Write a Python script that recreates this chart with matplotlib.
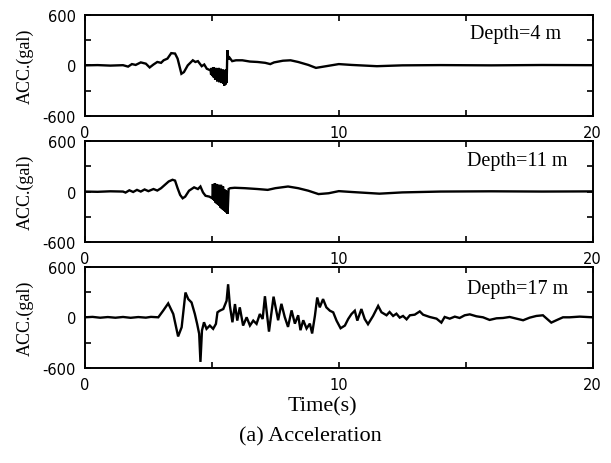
import matplotlib
matplotlib.use("Agg")
import matplotlib.pyplot as plt
from matplotlib.ticker import MultipleLocator

plt.rcParams["axes.unicode_minus"] = False

# ---- acceleration records (time in s, acceleration in gal) ----
t_4m = [0.0, 0.5, 1.0, 1.5, 1.7, 1.85, 2.0, 2.2, 2.4, 2.55,
        2.7, 2.85, 3.0, 3.1, 3.25, 3.4, 3.55, 3.65, 3.8, 3.9,
        4.05, 4.25, 4.35, 4.45, 4.6, 4.7, 4.8,
        4.95, 4.97, 4.99, 5.01, 5.03, 5.05, 5.07, 5.09, 5.11, 5.13,
        5.15, 5.17, 5.19, 5.21, 5.23, 5.25, 5.27, 5.29, 5.31, 5.33,
        5.35, 5.37, 5.39, 5.41, 5.43, 5.45, 5.47, 5.49, 5.51, 5.53,
        5.55, 5.57, 5.59,
        5.61, 5.65, 5.70, 5.8, 5.95, 6.2, 6.5, 6.8, 7.1, 7.3, 7.45,
        7.8, 8.1, 8.4, 8.8, 9.1, 9.5, 10.0, 10.5, 11.5, 12.5,
        14.0, 16.0, 18.0, 20.0]
a_4m = [0, 3, -3, 2, -15, 15, 5, 35, 20, -25,
        10, 40, 30, 60, 80, 145, 140, 80, -100, -80,
        0, 60, 40, 50, -10, 10, -40,
        -60, -110, -30, -120, -40, -140, -20, -150, -50, -170,
        -30, -160, -40, -190, -50, -180, -30, -200, -60, -190,
        -40, -210, -70, -200, -50, -220, -60, -240, -80, -230,
        -50, -210, -100,
        180, 70, 90, 50, 60, 60, 45, 40, 30, 15, 35,
        55, 60, 40, 5, -30, -10, 15, 5, -10, 0,
        3, 0, 4, 2]

t_11m = [0.0, 0.5, 1.0, 1.5, 1.6, 1.75, 1.9, 2.05, 2.2, 2.35,
         2.5, 2.7, 2.85, 3.0, 3.15, 3.3, 3.45, 3.55, 3.65, 3.75,
         3.85, 3.95, 4.1, 4.3, 4.45, 4.55, 4.65, 4.75, 4.9, 5.02,
         5.04, 5.06, 5.08, 5.10, 5.12, 5.14, 5.16, 5.18, 5.20, 5.22,
         5.24, 5.26, 5.28, 5.30, 5.32, 5.34, 5.36, 5.38, 5.40, 5.42,
         5.44, 5.46, 5.48, 5.50, 5.52, 5.54, 5.56, 5.58, 5.60,
         5.62, 5.66, 5.72, 5.9, 6.3, 6.8, 7.2, 7.5, 8.0, 8.4, 8.8,
         9.2, 9.6, 10.0, 10.5, 11.6, 12.5, 14.0, 16.0, 18.0, 20.0]
a_11m = [0, -3, 3, 0, -12, 15, -5, 20, 0, 25,
         5, 30, 12, 40, 80, 120, 140, 130, 40, -40,
         -80, -60, 10, 50, 30, 60, -10, -50, -60, -80,
         90, -100, 70, -110, 100, -130, 60, -140, 90, -150,
         50, -160, 80, -170, 60, -190, 80, -200, 40, -210,
         60, -220, 30, -230, 20, -240, 10, -250, 0,
         -265, 30, 40, 45, 40, 30, 20, 40, 60, 40, 10,
         -30, -20, 5, -5, -25, -10, 0, 3, 0, 2]

t_17m = [0.0, 0.3, 0.6, 0.9, 1.2, 1.5, 1.8, 2.1, 2.4, 2.6,
         2.89, 3.08, 3.28, 3.48, 3.67, 3.81, 3.96, 4.07, 4.2, 4.33,
         4.42, 4.5, 4.55, 4.61, 4.69, 4.79, 4.92, 5.05, 5.16, 5.22,
         5.31, 5.45, 5.58, 5.64, 5.71, 5.81, 5.91, 6.0, 6.1, 6.23,
         6.37, 6.5, 6.63, 6.76, 6.89, 7.0, 7.09, 7.25, 7.43, 7.61,
         7.74, 7.87, 8.0, 8.14, 8.27, 8.4, 8.49, 8.6, 8.73, 8.86,
         8.95, 9.06, 9.15, 9.25, 9.38, 9.51, 9.65, 9.78, 9.91, 10.07,
         10.24, 10.37, 10.5, 10.63, 10.73, 10.89, 11.02, 11.15, 11.35, 11.55,
         11.68, 11.88, 12.0, 12.14, 12.27, 12.4, 12.53, 12.67, 12.8, 12.99,
         13.19, 13.32, 13.58, 13.85, 14.04, 14.17, 14.37, 14.57, 14.76, 14.96,
         15.16, 15.42, 15.68, 15.94, 16.21, 16.47, 16.73, 17.0, 17.26, 17.52,
         17.78, 18.04, 18.37, 18.57, 18.83, 19.09, 19.49, 20.0]
a_17m = [0, 5, -5, 3, -5, 4, -6, 3, -4, 5,
         0, 78, 165, 39, -227, -118, 294, 216, 176, 39,
         -78, -196, -529, -157, -59, -137, -98, -137, -78, 59,
         78, 98, 196, 392, 137, -59, 157, -39, 118, -98,
         0, -98, -39, -78, 39, -20, 250, -170, 245, -35,
         160, 4, -114, 82, -75, 24, -153, -35, -133, -75,
         -192, 20, 235, 118, 216, 118, 78, 59, -39, -130,
         -98, -20, 39, 78, -39, 98, -20, -82, 16, 135,
         60, 24, 63, 16, 43, -4, 16, -24, 24, 31,
         70, 31, 4, -16, -63, 4, -16, 8, -8, 24,
         35, 12, 0, -31, -12, -8, 4, -16, -35, -4,
         16, 24, -63, -35, 0, 0, 8, 0]

records = [(t_4m, a_4m, "Depth=4 m", 0.937, 0.81),
           (t_11m, a_11m, "Depth=11 m", 0.951, 0.81),
           (t_17m, a_17m, "Depth=17 m", 0.951, 0.78)]

x_ticks = [0, 10, 20]
y_ticks = [-600, 0, 600]

serif = "Liberation Serif"

fig = plt.figure(figsize=(6.11, 4.64), dpi=100)
left, width, height = 0.139, 0.831, 0.218
bottoms = [0.748, 0.476, 0.205]

for (t, a, label, tx, ty), b in zip(records, bottoms):
    ax = fig.add_axes([left, b, width, height])
    ax.plot(t, a, color="black", lw=1.7, solid_joinstyle="miter")
    ax.set_xlim(0, 20)
    ax.set_ylim(-600, 600)
    ax.set_xticks(x_ticks)
    ax.set_yticks(y_ticks)
    ax.xaxis.set_minor_locator(MultipleLocator(5))
    ax.yaxis.set_minor_locator(MultipleLocator(300))
    ax.tick_params(which="both", direction="in", top=True, right=True,
                   length=4, width=1.2, labelsize=10.5, pad=6.5)
    for sp in ax.spines.values():
        sp.set_linewidth(1.4)
    ax.text(tx, ty, label, transform=ax.transAxes, ha="right",
            va="center", fontfamily=serif, fontsize=14.5)
    ycen = b + height / 2
    fig.text(25 / 611, ycen, "ACC.(gal)", rotation=90, ha="center",
             va="center", fontfamily=serif, fontsize=13)

fig.text(322 / 611, 1 - 407 / 464, "Time(s)", ha="center", va="center",
         fontfamily=serif, fontsize=16)
fig.text(310 / 611, 1 - 437 / 464, "(a) Acceleration", ha="center",
         va="center", fontfamily=serif, fontsize=16)

fig.savefig("out.png", dpi=100)
